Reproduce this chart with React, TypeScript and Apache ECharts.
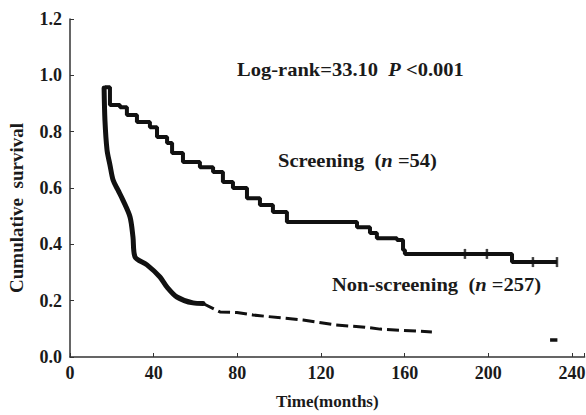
import React, { useEffect, useRef } from "react";
import * as echarts from "echarts";

// Time (months) and cumulative survival
const screeningTime = [16.7, 19.1, 23.9, 27.2, 32.0, 38.2, 41.6, 46.4, 48.8, 54.0, 62.1, 68.4, 73.1, 77.9, 84.6, 90.8, 97.0, 103.7, 137.2, 143.4, 146.7, 156.3, 159.2, 160.1, 211.3, 232.8];
const screeningSurv = [0.958, 0.895, 0.887, 0.859, 0.834, 0.816, 0.781, 0.760, 0.724, 0.692, 0.674, 0.657, 0.621, 0.600, 0.564, 0.540, 0.515, 0.479, 0.461, 0.440, 0.422, 0.415, 0.380, 0.366, 0.337, 0.337];
const screeningCensorTime = [188.8, 199.3, 221.3, 232.8];
const screeningCensorSurv = [0.366, 0.366, 0.337, 0.337];

const nonScreenTime = [16.3, 16.7, 17.7, 19.1, 20.6, 22.9, 25.3, 28.7, 30.1, 31.1, 36.8, 43.0, 46.4, 51.1, 58.8, 63.6];
const nonScreenSurv = [0.955, 0.841, 0.735, 0.682, 0.628, 0.593, 0.557, 0.497, 0.426, 0.355, 0.327, 0.284, 0.248, 0.213, 0.192, 0.190];
const nonScreenTailTime = [63.6, 71.7, 79.8, 87.5, 111.4, 126.7, 141.0, 148.2, 173.0];
const nonScreenTailSurv = [0.190, 0.160, 0.158, 0.149, 0.131, 0.114, 0.106, 0.099, 0.089];
const nonScreenLastTime = [229.5, 233.0];
const nonScreenLastSurv = [0.060, 0.060];

const xTicks = [0, 40, 80, 120, 160, 200, 240];
const yTicks = [0, 0.2, 0.4, 0.6, 0.8, 1.0, 1.2];

const FONT = "'Liberation Serif', 'DejaVu Serif', serif";
const INK = "#111";
const TXT = "#1a1a1a";

const zip = (a: number[], b: number[]) => a.map((v, i) => [v, b[i]]);

const richStyles = (size: number) => ({
  a: { fontFamily: FONT, fontSize: size, fontWeight: "bold", fill: TXT },
  i: { fontFamily: FONT, fontSize: size, fontWeight: "bold", fontStyle: "italic", fill: TXT },
});

const note = (text: string, x: number, y: number) => ({
  type: "text",
  x,
  y,
  scaleX: 1.14,
  style: { text, rich: richStyles(18), align: "left", verticalAlign: "middle" },
});

export default function App() {
  const ref = useRef<HTMLDivElement>(null);
  useEffect(() => {
    if (!ref.current) return;
    const chart = echarts.init(ref.current, null, { renderer: "svg" });
    chart.setOption({
      animation: false,
      backgroundColor: "#fff",
      grid: { left: 70, right: 1.4, top: 19, bottom: 58, containLabel: false, outerBoundsMode: "none" },
      xAxis: {
        type: "value",
        min: 0,
        max: 246,
        interval: 40,
        name: "Time(months)",
        nameLocation: "middle",
        nameGap: 36,
        nameTextStyle: { fontFamily: FONT, fontSize: 17, fontWeight: "bold", color: TXT },
        axisLine: { lineStyle: { color: "#333", width: 1.5 } },
        axisTick: { inside: true, length: 4, lineStyle: { color: "#333" } },
        splitLine: { show: false },
        axisLabel: {
          fontFamily: FONT,
          fontSize: 18,
          fontWeight: "bold",
          color: TXT,
          margin: 7,
          formatter: (v: number) => (xTicks.includes(v) ? String(v) : ""),
        },
      },
      yAxis: {
        type: "value",
        min: 0,
        max: 1.2,
        interval: 0.2,
        name: "Cumulative  survival",
        nameLocation: "middle",
        nameGap: 44,
        nameRotate: 90,
        nameTextStyle: { fontFamily: FONT, fontSize: 19, fontWeight: "bold", color: TXT, padding: [0, 40, 0, 0] },
        axisLine: { show: true, lineStyle: { color: "#333", width: 1.5 } },
        axisTick: { show: true, inside: true, length: 4, lineStyle: { color: "#333" } },
        splitLine: { show: false },
        axisLabel: {
          fontFamily: FONT,
          fontSize: 18,
          fontWeight: "bold",
          color: TXT,
          margin: 8,
          formatter: (v: number) => {
            const m = yTicks.find((t) => Math.abs(t - v) < 1e-6);
            return m === undefined ? "" : m.toFixed(1);
          },
        },
      },
      series: [
        {
          type: "line",
          name: "Screening",
          step: "end",
          data: zip(screeningTime, screeningSurv),
          showSymbol: false,
          lineStyle: { color: INK, width: 4 },
        },
        {
          type: "scatter",
          name: "Screening censored",
          data: zip(screeningCensorTime, screeningCensorSurv),
          symbol: "rect",
          symbolSize: [2.5, 10],
          itemStyle: { color: INK },
        },
        {
          type: "line",
          name: "Non-screening",
          smooth: 0.3,
          data: zip(nonScreenTime, nonScreenSurv),
          showSymbol: false,
          lineStyle: { color: INK, width: 5, join: "round", cap: "round" },
        },
        {
          type: "line",
          name: "Non-screening tail",
          data: zip(nonScreenTailTime, nonScreenTailSurv),
          showSymbol: false,
          lineStyle: { color: INK, width: 3, type: [12, 5] },
        },
        {
          type: "line",
          name: "Non-screening last",
          data: zip(nonScreenLastTime, nonScreenLastSurv),
          showSymbol: false,
          lineStyle: { color: INK, width: 3.5 },
        },
      ],
      graphic: [
        note("{a|Log-rank=33.10  }{i|P}{a| <0.001}", 237, 70),
        note("{a|Screening  (}{i|n}{a| =54)}", 278, 161),
        note("{a|Non-screening  (}{i|n}{a| =257)}", 332, 285),
      ],
    });
    return () => chart.dispose();
  }, []);
  return <div ref={ref} style={{ position: "fixed", left: 0, top: 0, width: 586, height: 415 }} />;
}
